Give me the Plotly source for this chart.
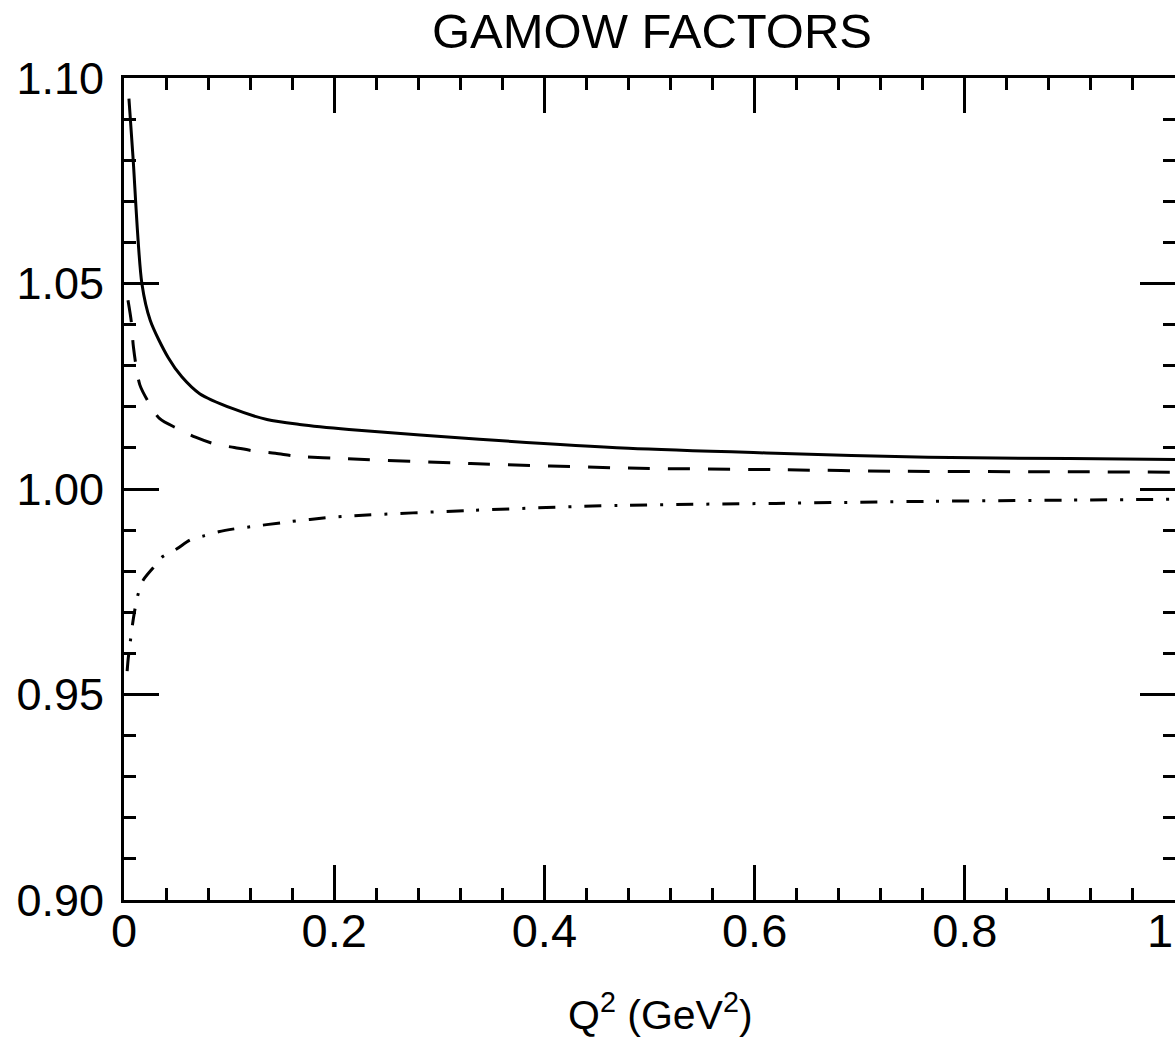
import plotly.graph_objects as go

# ---- data ----
q_solid = [0.0047, 0.0085, 0.017, 0.025, 0.042, 0.055, 0.072, 0.103, 0.136, 0.167,
           0.214, 0.338, 0.48, 0.62, 0.765, 0.9, 1.0]
g_solid = [1.095, 1.081, 1.050, 1.041, 1.032, 1.0273, 1.0232, 1.0196, 1.0169, 1.0157,
           1.0145, 1.0121, 1.0099, 1.0087, 1.0077, 1.0074, 1.0072]

q_dash = [0.0038, 0.007, 0.009, 0.015, 0.023, 0.034, 0.051, 0.068, 0.087, 0.105,
          0.125, 0.144, 0.164, 0.2, 0.33, 0.48, 0.62, 0.745, 0.88, 1.0]
g_dash = [1.0459, 1.0406, 1.0345, 1.0254, 1.0213, 1.0171, 1.0147, 1.0126, 1.0109, 1.0101,
          1.0092, 1.0087, 1.0080, 1.0075, 1.0062, 1.0051, 1.0047, 1.0043, 1.0042, 1.0041]

q_dd = [0.003, 0.004, 0.006, 0.009, 0.013, 0.018, 0.028, 0.036, 0.05, 0.063,
        0.076, 0.09, 0.105, 0.12, 0.15, 0.177, 0.207, 0.33, 0.47, 0.62, 0.765, 0.9, 1.0]
g_dd = [0.9557, 0.9587, 0.9629, 0.9686, 0.974, 0.9777, 0.9809, 0.9834, 0.9854, 0.9876,
        0.9886, 0.9896, 0.9903, 0.9908, 0.9918, 0.9926, 0.9933, 0.9948, 0.9960, 0.9965, 0.9970, 0.9973, 0.9975]

x_tick_vals = [0, 0.2, 0.4, 0.6, 0.8, 1.0]
x_tick_text = ["0", "0.2", "0.4", "0.6", "0.8", "1"]
y_tick_vals = [0.90, 0.95, 1.00, 1.05, 1.10]
y_tick_text = ["0.90", "0.95", "1.00", "1.05", "1.10"]

FONT = "Liberation Sans, Arial, Helvetica, sans-serif"
TICK = dict(ticks="inside", ticklen=35, tickwidth=3, tickcolor="black")

fig = go.Figure()
fig.add_trace(go.Scatter(x=q_solid, y=g_solid, mode="lines",
                         line=dict(color="black", width=3, shape="spline", smoothing=0.8)))
fig.add_trace(go.Scatter(x=q_dash, y=g_dash, mode="lines",
                         line=dict(color="black", width=3, dash="22px,18px", shape="spline", smoothing=0.8)))
fig.add_trace(go.Scatter(x=q_dd, y=g_dd, mode="lines",
                         line=dict(color="black", width=3, dash="17px,13px,3px,13px", shape="spline", smoothing=0.8)))
# invisible trace carrying the top / right tick axes
fig.add_trace(go.Scatter(x=[0.5], y=[1.0], xaxis="x2", yaxis="y2", mode="markers",
                         marker=dict(opacity=0), hoverinfo="skip"))

fig.update_layout(
    width=1175, height=1043,
    margin=dict(l=124, r=0, t=78, b=143),
    paper_bgcolor="white", plot_bgcolor="white",
    showlegend=False,
    font=dict(family=FONT, color="black", size=46),
    title=dict(text="GAMOW FACTORS", x=652 / 1175, xanchor="center",
               y=1 - 31 / 1043, yanchor="middle", yref="container",
               font=dict(size=49, family=FONT, color="black")),
    xaxis=dict(range=[0, 1.0], tickvals=x_tick_vals[:-1], ticktext=x_tick_text[:-1],
               **TICK,
               minor=dict(dtick=0.04, ticks="inside", ticklen=12, tickwidth=3, tickcolor="black"),
               showline=True, linewidth=3, linecolor="black", mirror=False,
               showgrid=False, zeroline=False, ticklabelstandoff=-12,
               tickfont=dict(size=47)),
    xaxis2=dict(range=[0, 1.0], overlaying="x", side="top", anchor="y2",
                tickvals=x_tick_vals, showticklabels=False, **TICK,
                minor=dict(dtick=0.04, ticks="inside", ticklen=12, tickwidth=3, tickcolor="black"),
                showline=True, linewidth=3, linecolor="black",
                showgrid=False, zeroline=False),
    yaxis=dict(range=[0.90, 1.10], tickvals=y_tick_vals, ticktext=y_tick_text,
               **TICK,
               minor=dict(dtick=0.01, ticks="inside", ticklen=12, tickwidth=3, tickcolor="black"),
               showline=True, linewidth=3, linecolor="black", mirror=False,
               showgrid=False, zeroline=False, ticklabelstandoff=8,
               tickfont=dict(size=45)),
    yaxis2=dict(range=[0.90, 1.10], overlaying="y", side="right", anchor="x2",
                tickvals=y_tick_vals, showticklabels=False, **TICK,
                minor=dict(dtick=0.01, ticks="inside", ticklen=12, tickwidth=3, tickcolor="black"),
                showline=False, showgrid=False, zeroline=False),
)
# last x tick label (axis end is cropped at the right edge)
fig.add_annotation(x=1, xref="paper", y=0, yref="paper", text=x_tick_text[-1],
                   showarrow=False, xanchor="right", yanchor="top", yshift=-2,
                   font=dict(size=47, family=FONT, color="black"))
# x axis title
fig.add_annotation(x=(660 - 124) / 1051, xref="paper", y=(900 - 1012) / 822, yref="paper",
                   text="Q<sup>2</sup> (GeV<sup>2</sup>)", showarrow=False,
                   xanchor="center", yanchor="middle",
                   font=dict(size=41, family=FONT, color="black"))

fig.write_html("out.html")
